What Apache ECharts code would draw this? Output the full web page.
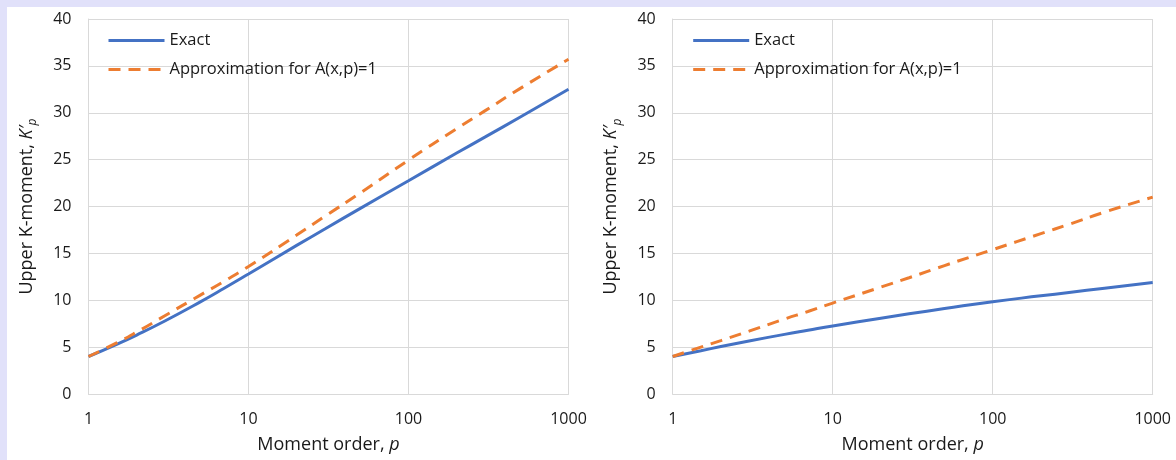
<!DOCTYPE html>
<html>
<head>
<meta charset="utf-8">
<script src="https://cdn.jsdelivr.net/npm/echarts@6/dist/echarts.min.js"></script>
<style>
  html, body { margin: 0; padding: 0; background: #e1e1fa; width: 1176px; height: 460px; overflow: hidden; }
  #chart { position: absolute; left: 7px; top: 7px; width: 1169px; height: 453px; background: #ffffff; }
</style>
</head>
<body>
<div id="chart"></div>
<script>
// Moment order p (x values, shared by all series)
const pValues = [1, 1.5, 2, 3, 5, 7, 10, 20, 30, 50, 100, 200, 300, 500, 1000];
// Left panel
const leftExact  = [4.0, 5.3, 6.29, 7.79, 9.83, 11.25, 12.8, 15.85, 17.6, 19.8, 22.75, 25.7, 27.4, 29.55, 32.5];
const leftApprox = [4.0, 5.45, 6.6, 8.35, 10.55, 12.0, 13.6, 16.95, 18.95, 21.45, 24.95, 28.3, 30.2, 32.6, 35.7];
// Right panel
const rightExact  = [4.0, 4.62, 5.06, 5.65, 6.36, 6.8, 7.26, 8.08, 8.55, 9.11, 9.85, 10.47, 10.83, 11.28, 11.9];
const rightApprox = [4.0, 5.0, 5.7, 6.7, 8.0, 8.8, 9.7, 11.4, 12.4, 13.7, 15.4, 17.1, 18.1, 19.4, 21.0];
// Axis ticks
const xTicks = ['1', '10', '100', '1000'];
const yMin = 0, yMax = 40, yStep = 5;
const seriesNames = ['Exact', 'Approximation for A(x,p)=1'];

const FONT = 'Open Sans';
const TXT = '#1a1a1a';
const GRIDC = '#d9d9d9';
const BLUE = '#4472c4';
const ORANGE = '#ed7d31';

function pairs(ys) { return pValues.map((p, i) => [p, ys[i]]); }

const grids = [
  { left: 81.5, top: 12, width: 480, height: 375 },
  { left: 665.7, top: 12, width: 480, height: 375 }
];

function xAxis(idx) {
  return {
    gridIndex: idx, type: 'log', logBase: 10, min: 1, max: 1000,
    name: '{a|Moment order, }{b|p}', nameLocation: 'middle', nameGap: 42,
    nameTextStyle: { rich: {
      a: { fontFamily: FONT, fontSize: 18, color: TXT },
      b: { fontFamily: FONT, fontSize: 18, color: TXT, fontStyle: 'italic' }
    } },
    axisLine: { show: true, lineStyle: { color: GRIDC, width: 1 } },
    axisTick: { show: false },
    splitLine: { show: true, lineStyle: { color: GRIDC, width: 1 } },
    axisLabel: { fontFamily: FONT, fontSize: 16, color: TXT, margin: 17,
      formatter: v => { const s = String(Math.round(v)); return xTicks.includes(s) ? s : ''; } }
  };
}
function yAxis(idx) {
  return {
    gridIndex: idx, type: 'value', min: yMin, max: yMax, interval: yStep,
    name: '{a|Upper K-moment, }{b|K′}{c|p}', nameLocation: 'middle', nameGap: 40, nameRotate: 90,
    nameTextStyle: { rich: {
      a: { fontFamily: FONT, fontSize: 18, color: TXT, lineHeight: 20, verticalAlign: 'top' },
      b: { fontFamily: FONT, fontSize: 18, color: TXT, fontStyle: 'italic', lineHeight: 20, verticalAlign: 'top' },
      c: { fontFamily: FONT, fontSize: 12, color: TXT, fontStyle: 'italic', lineHeight: 31, verticalAlign: 'middle' }
    } },
    axisLine: { show: true, lineStyle: { color: GRIDC, width: 1 } },
    axisTick: { show: false },
    splitLine: { show: true, lineStyle: { color: GRIDC, width: 1 } },
    axisLabel: { fontFamily: FONT, fontSize: 16, color: TXT, margin: 17 }
  };
}
function legend(left) {
  return {
    data: seriesNames, orient: 'vertical', left: left, top: 20,
    itemWidth: 56, itemHeight: 14, itemGap: 12,
    itemStyle: { opacity: 0 },
    lineStyle: { width: 3 },
    textStyle: { fontFamily: FONT, fontSize: 16.5, color: TXT }
  };
}
function seriesFor(idx, ex, ap) {
  return [
    { name: seriesNames[0], type: 'line', xAxisIndex: idx, yAxisIndex: idx, data: pairs(ex),
      smooth: true, symbol: 'none', lineStyle: { color: BLUE, width: 3 }, itemStyle: { color: BLUE }, z: 3 },
    { name: seriesNames[1], type: 'line', xAxisIndex: idx, yAxisIndex: idx, data: pairs(ap),
      smooth: true, symbol: 'none', lineStyle: { color: ORANGE, width: 3, type: [12, 8] }, itemStyle: { color: ORANGE }, z: 4 }
  ];
}

const chart = echarts.init(document.getElementById('chart'), null, { renderer: 'canvas' });
const leg1 = legend(95); leg1.id = 'l1';
const leg2 = legend(679.7); leg2.id = 'l2';
chart.setOption({
  animation: false,
  backgroundColor: '#ffffff',
  grid: grids,
  xAxis: [xAxis(0), xAxis(1)],
  yAxis: [yAxis(0), yAxis(1)],
  legend: [leg1, leg2],
  series: [...seriesFor(0, leftExact, leftApprox), ...seriesFor(1, rightExact, rightApprox)]
});
</script>
</body>
</html>
